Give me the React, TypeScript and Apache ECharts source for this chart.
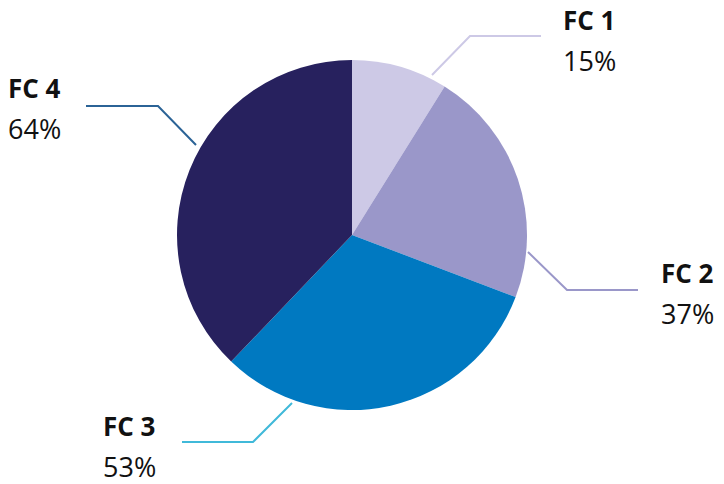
import React, { useEffect, useRef } from "react";
import * as echarts from "echarts";

const categories = ["FC 1", "FC 2", "FC 3", "FC 4"];
const values = [15, 37, 53, 64];
const sliceColors = ["#cdc9e6", "#9a97c9", "#0079c1", "#27215e"];
const lineColors = ["#cdc9e6", "#9a97c9", "#40b9d9", "#2b6396"];
// label block positions (left, top) and leader line points
const labelPos: [number, number][] = [
  [563, -1],
  [661, 252],
  [103, 405],
  [8, 67],
];
const linePoints: [number, number][][] = [
  [[432, 75], [470, 36], [541, 36]],
  [[528, 252], [567, 290], [638, 290]],
  [[292, 403], [253, 442], [182, 442]],
  [[196, 145], [158, 106], [86, 106]],
];

export default function App() {
  const ref = useRef<HTMLDivElement>(null);
  useEffect(() => {
    document.body.style.margin = "0";
    const chart = echarts.init(ref.current!, null, { renderer: "svg" });
    chart.setOption({
      animation: false,
      series: [
        {
          type: "pie",
          center: [352, 235],
          radius: 175,
          startAngle: 90,
          clockwise: true,
          data: categories.map((name, i) => ({
            name,
            value: values[i],
            itemStyle: { color: sliceColors[i] },
            labelLine: { lineStyle: { color: lineColors[i], width: 2 } },
          })),
          label: {
            show: true,
            formatter: (p: any) => `{b|${p.name}}\n{c|${p.value}%}`,
            rich: {
              b: {
                fontFamily: "Open Sans",
                fontWeight: "bold",
                fontSize: 26,
                lineHeight: 41,
                color: "#111111",
              },
              c: {
                fontFamily: "Open Sans",
                fontSize: 27,
                lineHeight: 41,
                color: "#111111",
              },
            },
          },
          labelLine: { show: true, smooth: false },
          labelLayout: (params: any) => {
            const i = params.dataIndex;
            return {
              x: labelPos[i][0],
              y: labelPos[i][1],
              align: "left",
              verticalAlign: "top",
              labelLinePoints: linePoints[i],
            };
          },
          emphasis: { disabled: true },
        },
      ],
    });
    return () => chart.dispose();
  }, []);
  return <div ref={ref} style={{ width: 724, height: 484 }} />;
}
